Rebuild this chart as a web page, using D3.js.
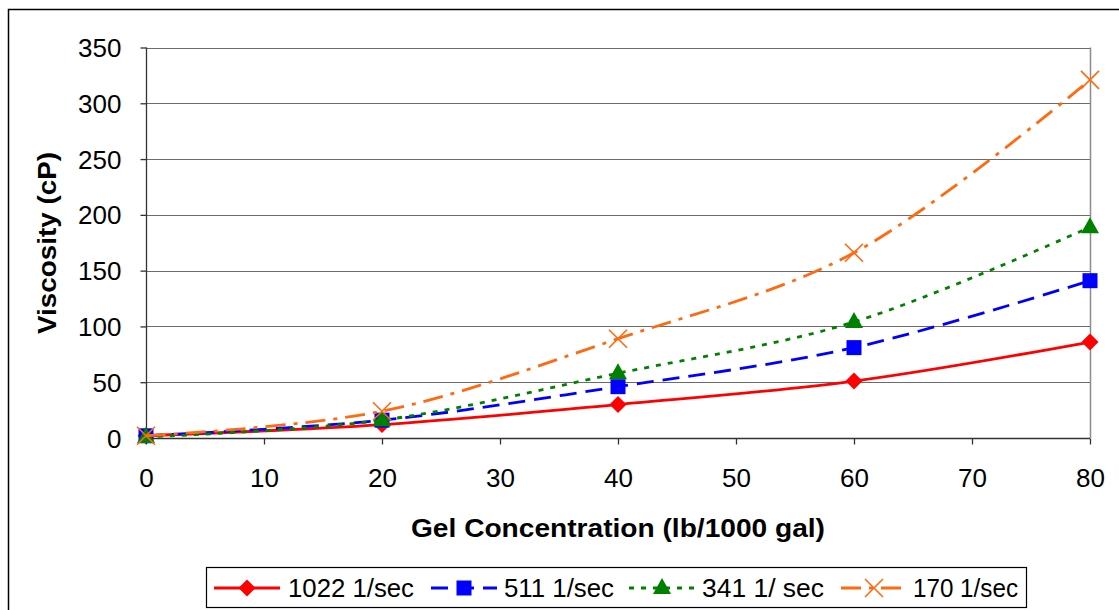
<!DOCTYPE html>
<html>
<head>
  <style>
    body { margin: 0; background: white; }
    text { font-family: Arial, "Liberation Sans", sans-serif; fill: black; }
  </style>
</head>
<body>
  <div id="chart"></div>
  <script src="https://d3js.org/d3.v7.min.js"></script>
  <script>
    var width = 1119, height = 610;

    // gel concentration (lb/1000 gal)
    var conc = [0, 20, 40, 60, 80];
    var visc1022 = [2, 12, 30, 51, 86];
    var visc511 = [2, 16, 46, 81, 141];
    var visc341 = [1, 16, 58, 104, 189];
    var visc170 = [2, 24, 89, 166, 321];
    var xTicks = [0, 10, 20, 30, 40, 50, 60, 70, 80];
    var yTicks = [0, 50, 100, 150, 200, 250, 300, 350];

    var series = [
      { name: "1022 1/sec", values: visc1022, color: "#ff0000", dash: null, marker: "diamond", lx: 214, tx: 288, tw: 126 },
      { name: "511 1/sec", values: visc511, color: "#0000ff", dash: "17,9", marker: "square", lx: 431, tx: 504, tw: 110 },
      { name: "341 1/ sec", values: visc341, color: "#008000", dash: "5,7", marker: "triangle", lx: 629, tx: 702, tw: 122 },
      { name: "170 1/sec", values: visc170, color: "#ff6a10", dash: "20,8,4,8", marker: "x", lx: 841, tx: 913, tw: 105 }
    ];

    var svg = d3.select("#chart").append("svg")
        .attr("width", width).attr("height", height);

    // outer chart border
    svg.append("rect")
        .attr("x", 8.5).attr("y", 9.5)
        .attr("width", 1120).attr("height", 610)
        .attr("fill", "none").attr("stroke", "black").attr("stroke-width", 1.5);

    var x = d3.scaleLinear().domain([0, 80]).range([146, 1090]);
    var y = d3.scaleLinear().domain([0, 350]).range([438, 47.5]);

    // gridlines
    svg.append("g").selectAll("line")
        .data(yTicks.filter(d => d > 0))
      .enter().append("line")
        .attr("x1", x(0)).attr("x2", x(80))
        .attr("y1", d => Math.round(y(d)) + 0.5).attr("y2", d => Math.round(y(d)) + 0.5)
        .attr("stroke", "#6b6b6b").attr("stroke-width", 1.2);

    // right edge of plot area
    svg.append("line")
        .attr("x1", x(80) + 0.5).attr("x2", x(80) + 0.5)
        .attr("y1", y(350)).attr("y2", y(0))
        .attr("stroke", "#8c8c8c").attr("stroke-width", 1.5);

    var xAxis = svg.append("g")
        .attr("transform", "translate(0," + (Math.round(y(0)) + 0.5) + ")")
        .call(d3.axisBottom(x).tickValues(xTicks).tickSize(6).tickPadding(24));
    var yAxis = svg.append("g")
        .attr("transform", "translate(" + (x(0) + 0.5) + ",0)")
        .call(d3.axisLeft(y).tickValues(yTicks).tickSize(6).tickPadding(19));

    [xAxis, yAxis].forEach(g => {
      g.select(".domain").attr("stroke", "#333").attr("stroke-width", 1.3);
      g.selectAll(".tick line").attr("stroke", "#333").attr("stroke-width", 1.3);
      g.selectAll(".tick text")
          .style("font-family", "Arial, 'Liberation Sans', sans-serif")
          .style("font-size", "26px").attr("fill", "black");
    });
    xAxis.select(".domain").attr("d", "M" + x(0) + ",0H" + x(80));
    yAxis.select(".domain").attr("d", "M0," + y(350) + "V" + y(0));
    yAxis.selectAll(".tick text").attr("dy", "0.35em");

    // axis titles
    svg.append("text")
        .attr("x", 618).attr("y", 537)
        .attr("text-anchor", "middle")
        .attr("textLength", 414).attr("lengthAdjust", "spacingAndGlyphs")
        .style("font-size", "25px").style("font-weight", "bold")
        .text("Gel Concentration (lb/1000 gal)");
    svg.append("text")
        .attr("transform", "translate(56,243) rotate(-90)")
        .attr("text-anchor", "middle")
        .attr("textLength", 182).attr("lengthAdjust", "spacingAndGlyphs")
        .style("font-size", "25px").style("font-weight", "bold")
        .text("Viscosity (cP)");

    var line = d3.line()
        .x(d => x(d[0])).y(d => y(d[1]))
        .curve(d3.curveCatmullRom.alpha(0.5));

    function drawMarker(g, type, color, cx, cy) {
      if (type == "diamond") {
        g.append("path")
            .attr("d", "M" + cx + "," + (cy - 8.5) + "L" + (cx + 8.5) + "," + cy + "L" + cx + "," + (cy + 8.5) + "L" + (cx - 8.5) + "," + cy + "Z")
            .attr("fill", color);
      } else if (type == "square") {
        g.append("rect")
            .attr("x", cx - 7.5).attr("y", cy - 7.5)
            .attr("width", 15).attr("height", 15)
            .attr("fill", color);
      } else if (type == "triangle") {
        g.append("path")
            .attr("d", "M" + cx + "," + (cy - 10) + "L" + (cx + 9) + "," + (cy + 6) + "L" + (cx - 9) + "," + (cy + 6) + "Z")
            .attr("fill", color);
      } else {
        g.append("path")
            .attr("d", "M" + (cx - 9) + "," + (cy - 9) + "L" + (cx + 9) + "," + (cy + 9) + "M" + (cx + 9) + "," + (cy - 9) + "L" + (cx - 9) + "," + (cy + 9))
            .attr("stroke", color).attr("stroke-width", 1.6).attr("fill", "none");
      }
    }

    series.forEach(s => {
      var pts = conc.map((c, i) => [c, s.values[i]]);
      svg.append("path")
          .datum(pts)
          .attr("d", line)
          .attr("fill", "none")
          .attr("stroke", s.color)
          .attr("stroke-width", 2.8)
          .attr("stroke-dasharray", s.dash);
      var g = svg.append("g");
      pts.forEach(p => drawMarker(g, s.marker, s.color, x(p[0]), y(p[1])));
    });

    // legend
    svg.append("rect")
        .attr("x", 206.5).attr("y", 567.5)
        .attr("width", 820).attr("height", 40)
        .attr("fill", "white").attr("stroke", "black").attr("stroke-width", 1.2);

    series.forEach(s => {
      var ly = 588;
      var lg = svg.append("g");
      lg.append("line")
          .attr("x1", s.lx).attr("x2", s.lx + 66)
          .attr("y1", ly).attr("y2", ly)
          .attr("stroke", s.color).attr("stroke-width", 2.8)
          .attr("stroke-dasharray", s.dash);
      drawMarker(lg, s.marker, s.color, s.lx + 33, ly);
      lg.append("text")
          .attr("x", s.tx).attr("y", ly + 9)
          .attr("textLength", s.tw).attr("lengthAdjust", "spacingAndGlyphs")
          .style("font-size", "25px")
          .text(s.name);
    });
  </script>
</body>
</html>
